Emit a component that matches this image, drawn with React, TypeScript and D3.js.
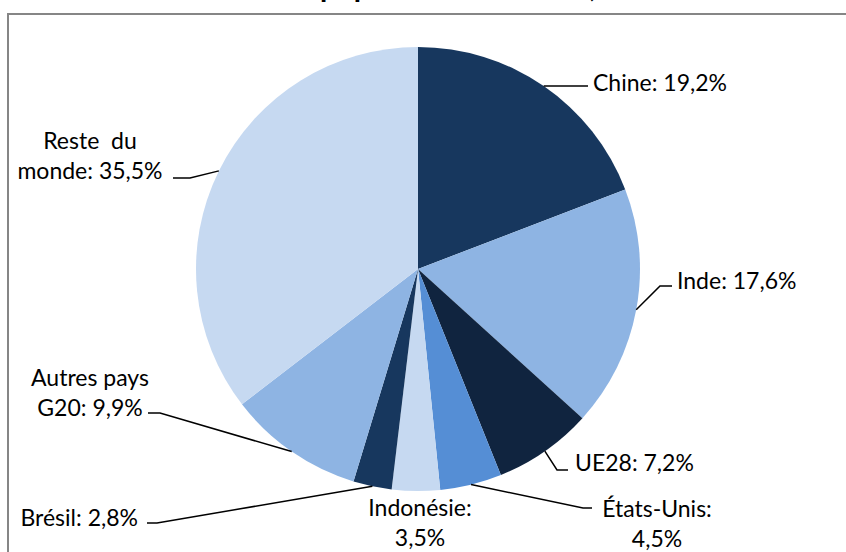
import React from "react";
import * as d3 from "d3";

const categories = ["Chine", "Inde", "UE28", "États-Unis", "Indonésie", "Brésil", "Autres pays G20", "Reste du monde"];
const values = [19.2, 17.6, 7.2, 4.5, 3.5, 2.8, 9.9, 35.5];
const colors = ["#17375E", "#8EB4E3", "#10243F", "#558ED5", "#C6D9F1", "#17375E", "#8EB4E3", "#C6D9F1"];
// label text lines: first line prefix (category part) and split behaviour
const labelFirstLines = [null, null, null, "États-Unis:", "Indonésie:", null, "Autres pays", "Reste  du"];
const labelSecondPrefix = [null, null, null, "", "", null, "G20: ", "monde: "];
const titleParts = ["Part de la", "population mondiale,", " 2014"];

const W = 846;
const H = 552;
const cx = 418;
const cy = 269;
const R = 222;

type Layout = { anchor: "start" | "middle" | "end"; tx: number; ty: number; pts: [number, number][] };
const layouts: Layout[] = [
  { anchor: "start", tx: 593, ty: 82, pts: [[588, 86]] },
  { anchor: "start", tx: 677, ty: 280, pts: [[660, 286], [672, 286]] },
  { anchor: "start", tx: 575, ty: 462, pts: [[557, 470], [568, 470]] },
  { anchor: "middle", tx: 657, ty: 508, pts: [[583, 508], [592, 508]] },
  { anchor: "middle", tx: 420, ty: 507, pts: [] },
  { anchor: "end", tx: 138, ty: 517, pts: [[157, 523], [147, 523]] },
  { anchor: "middle", tx: 90, ty: 377, pts: [[160, 413], [148, 413]] },
  { anchor: "middle", tx: 90, ty: 140, pts: [[190, 178], [173, 178]] },
];

const fmt = (v: number) => v.toFixed(1).replace(".", ",") + "%";

export default function App() {
  const pie = d3.pie<number>().sort(null).value((d) => d).startAngle(0).endAngle(2 * Math.PI);
  const arcs = pie(values);
  const arc = d3.arc<d3.PieArcDatum<number>>().innerRadius(0).outerRadius(R);
  const edgeArc = d3.arc<d3.PieArcDatum<number>>().innerRadius(R).outerRadius(R);
  const font = "Lato, 'Open Sans', sans-serif";
  const fs = 23;
  const lh = 30;

  return (
    <svg width={W} height={H} style={{ position: "absolute", left: 0, top: 0, background: "#fff" }}>
      <rect x={8} y={14} width={W + 20} height={H + 20} fill="#fff" stroke="#868686" strokeWidth={2} />
      <text y={-3} fontFamily={font} fontWeight="bold" fontSize={29.5} fill="#000">
        <tspan x={318} textAnchor="end">{titleParts[0]}</tspan>
        <tspan x={320}>{titleParts[1]}</tspan>
        <tspan>{titleParts[2]}</tspan>
      </text>
      <g transform={`translate(${cx},${cy})`}>
        {arcs.map((a, i) => (
          <path key={categories[i]} d={arc(a) || ""} fill={colors[i]} />
        ))}
      </g>
      {arcs.map((a, i) => {
        const L = layouts[i];
        if (!L.pts.length) return null;
        const mid = (a.startAngle + a.endAngle) / 2;
        const e = edgeArc.centroid({ ...a, startAngle: mid, endAngle: mid } as any);
        const pts: [number, number][] = [[cx + e[0], cy + e[1]], ...L.pts];
        return (
          <path key={"l" + i} d={d3.line()(pts) || ""} fill="none" stroke="#000" strokeWidth={1.5} />
        );
      })}
      {arcs.map((a, i) => {
        const L = layouts[i];
        const first = labelFirstLines[i];
        const val = fmt(values[i]);
        return (
          <text
            key={"t" + i}
            x={L.tx}
            y={L.ty}
            textAnchor={L.anchor}
            fontFamily={font}
            fontSize={fs}
            fill="#000"
            dominantBaseline="central"
            style={{ whiteSpace: "pre" }}
          >
            {first === null ? (
              `${categories[i]}: ${val}`
            ) : (
              <>
                <tspan x={L.tx}>{first}</tspan>
                <tspan x={L.tx} dy={lh}>{`${labelSecondPrefix[i]}${val}`}</tspan>
              </>
            )}
          </text>
        );
      })}
    </svg>
  );
}
